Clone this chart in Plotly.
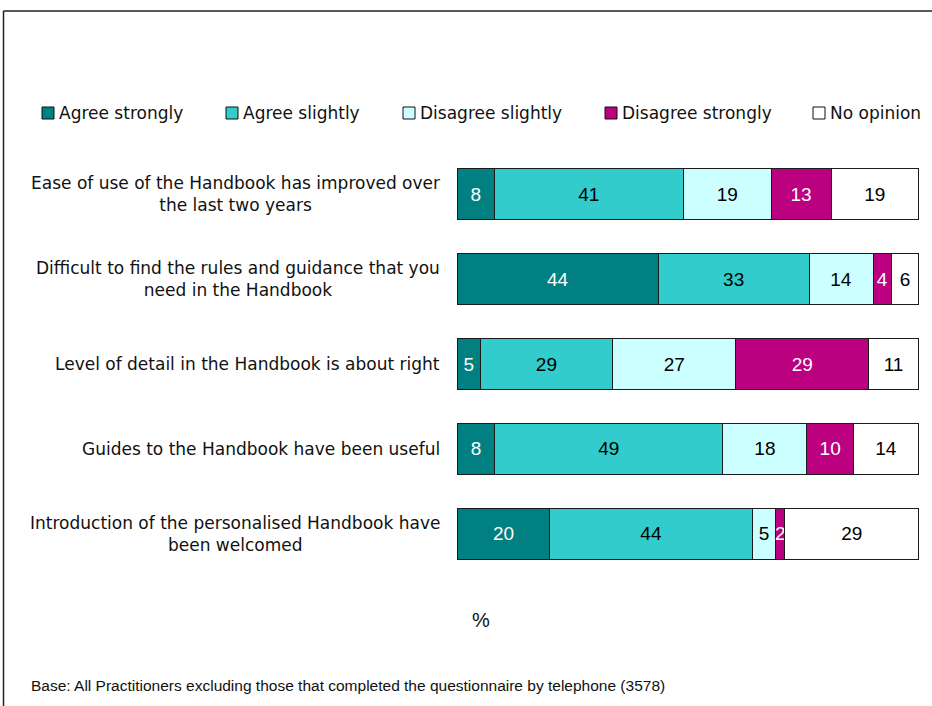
import plotly.graph_objects as go

# Survey statements (top to bottom)
statements = [
    "Ease of use of the Handbook has improved over<br>the last two years",
    "Difficult to find the rules and guidance that you<br>need in the Handbook",
    "Level of detail in the Handbook is about right",
    "Guides to the Handbook have been useful",
    "Introduction of the personalised Handbook have<br>been welcomed",
]
keys = ["S1", "S2", "S3", "S4", "S5"]

# Response categories and their percentages per statement
responses = ["Agree strongly", "Agree slightly", "Disagree slightly", "Disagree strongly", "No opinion"]
agree_strongly = [8, 44, 5, 8, 20]
agree_slightly = [41, 33, 29, 49, 44]
disagree_slightly = [19, 14, 27, 18, 5]
disagree_strongly = [13, 4, 29, 10, 2]
no_opinion = [19, 6, 11, 14, 29]
series = [agree_strongly, agree_slightly, disagree_slightly, disagree_strongly, no_opinion]

colors = ["#008080", "#33CCCC", "#CCFFFF", "#BB0080", "#FFFFFF"]
text_colors = ["white", "black", "black", "white", "black"]

W, H = 932, 706
L, R, T, B = 455, 11, 152, 130
PW, PH = W - L - R, H - T - B
# small padding so the bar outlines at both ends stay visible
X0_PAD = (457.3 - L) / (918.7 - 457.3) * 100
X1_PAD = (W - R - 918.7) / (918.7 - 457.3) * 100


def px_x(px):
    return (px - L) / PW


def px_y(py):
    return (H - B - py) / PH


fig = go.Figure()
for name, vals, col, tcol in zip(responses, series, colors, text_colors):
    fig.add_trace(go.Bar(
        y=keys, x=vals, name=name, orientation="h",
        marker=dict(color=col, line=dict(color="#1a1a1a", width=1)),
        text=vals, texttemplate="%{text}", textposition="inside",
        insidetextanchor="middle", textangle=0, constraintext="none",
        insidetextfont=dict(family="Liberation Sans, Arial", size=19, color=tcol),
        showlegend=False, hoverinfo="skip",
    ))

annotations = []
shapes = []

# Statement labels, centred lines, right edge beside the bars
for k, s in zip(keys, statements):
    annotations.append(dict(
        x=px_x(442), xref="paper", y=k, yref="y", text=s, showarrow=False,
        xanchor="right", yanchor="middle", align="center",
        font=dict(family="DejaVu Sans", size=17, color="#111111"),
    ))

# Legend row
legend_x = [42, 226, 403, 605, 813]
for name, col, lx in zip(responses, colors, legend_x):
    shapes.append(dict(
        type="rect", xref="paper", yref="paper",
        x0=px_x(lx), x1=px_x(lx + 12), y0=px_y(119), y1=px_y(107),
        fillcolor=col, line=dict(color="#111111", width=1),
    ))
    annotations.append(dict(
        x=px_x(lx + 15), xref="paper", y=px_y(113), yref="paper", text=name,
        showarrow=False, xanchor="left", yanchor="middle",
        font=dict(family="DejaVu Sans", size=17, color="#111111"),
    ))

annotations.append(dict(
    x=px_x(481), xref="paper", y=px_y(620), yref="paper", text="%",
    showarrow=False, xanchor="center", yanchor="middle",
    font=dict(family="Liberation Sans, Arial", size=20, color="#111111"),
))
annotations.append(dict(
    x=px_x(29), xref="paper", y=px_y(685), yref="paper",
    text="Base: All Practitioners excluding those that completed the questionnaire by telephone (3578)",
    showarrow=False, xanchor="left", yanchor="middle",
    font=dict(family="Liberation Sans, Arial", size=15.5, color="#111111"),
))

# Frame lines along the left and top edges
shapes.append(dict(type="line", xref="paper", yref="paper",
                   x0=px_x(3.5), x1=px_x(3.5), y0=px_y(720), y1=px_y(11),
                   line=dict(color="#222222", width=1.5)))
shapes.append(dict(type="line", xref="paper", yref="paper",
                   x0=px_x(3.5), x1=px_x(950), y0=px_y(11), y1=px_y(11),
                   line=dict(color="#222222", width=1.5)))

fig.update_layout(
    barmode="stack", barnorm="percent", bargap=0.4,
    width=W, height=H,
    margin=dict(l=L, r=R, t=T, b=B, pad=0),
    paper_bgcolor="white", plot_bgcolor="white",
    xaxis=dict(range=[-X0_PAD, 100 + X1_PAD], visible=False, fixedrange=True),
    yaxis=dict(categoryorder="array", categoryarray=keys, autorange="reversed",
               showticklabels=False, showgrid=False, zeroline=False, showline=False,
               ticks="", fixedrange=True),
    uniformtext=dict(minsize=19, mode="show"),
    annotations=annotations, shapes=shapes,
    showlegend=False,
)

fig.write_html("out.html", config={"displayModeBar": False})
